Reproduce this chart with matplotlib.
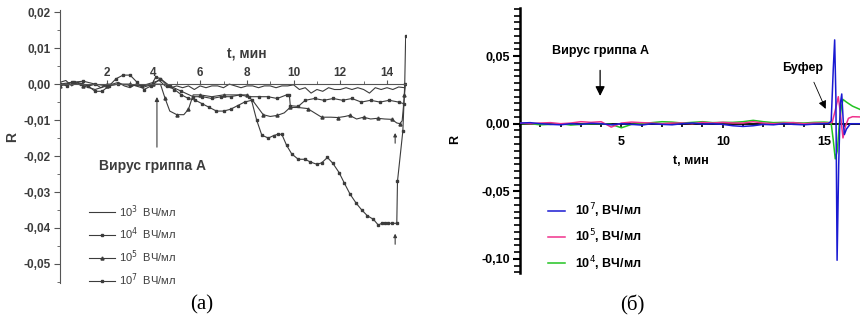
import numpy as np
import matplotlib.pyplot as plt
from matplotlib.ticker import MultipleLocator

plt.rcParams['font.family'] = ['Liberation Sans', 'DejaVu Sans']

# ---- panel (a) data ----
t_a3 = [0, 0.25, 0.5, 0.75, 1.0, 1.25, 1.5, 1.75, 2.0, 2.25, 2.5, 2.75, 3.0, 3.25, 3.5, 3.75,
        4.0, 4.25, 4.5, 4.75, 5.0, 5.25, 5.5, 5.75, 6.0, 6.25, 6.5, 6.75, 7.0, 7.25, 7.5, 7.75,
        8.0, 8.25, 8.5, 8.75, 9.0, 9.25, 9.5, 9.75, 10.0, 10.25, 10.5, 10.75, 11.0, 11.25, 11.5,
        11.75, 12.0, 12.25, 12.5, 12.75, 13.0, 13.25, 13.5, 13.75, 14.0, 14.25, 14.5, 14.75]
r_a3 = [0.0005, 0.001, -0.0005, 0.0005, 0.0, -0.0005, 0.0, -0.001, 0.0, 0.0, 0.0005, -0.0005,
        -0.001, 0.0, -0.0005, 0.0, 0.0005, 0.001, -0.0005, -0.001, -0.0005, -0.001, -0.0005,
        -0.0015, -0.0005, -0.001, -0.0005, -0.0005, -0.001, 0.0, -0.0005, -0.001, -0.0005,
        -0.0005, -0.001, -0.0005, -0.0005, -0.001, -0.0005, -0.0005, -0.0002, -0.0015, -0.001,
        -0.0025, -0.0015, -0.002, -0.001, -0.0015, -0.0015, -0.001, -0.0015, -0.001, -0.0015,
        -0.0025, -0.001, -0.0015, -0.001, -0.0015, -0.0008, -0.001]

t_a4 = [0, 0.5, 1.0, 1.5, 2.0, 2.5, 3.0, 3.5, 4.0, 4.3, 4.7, 5.2, 5.7, 6.1, 6.5, 6.9, 7.3, 7.7,
        8.1, 8.5, 8.9, 9.3, 9.7, 9.82, 9.86, 10.2, 10.5, 10.9, 11.3, 11.7, 12.1, 12.5, 12.9,
        13.3, 13.7, 14.1, 14.5, 14.75]
r_a4 = [0.0, 0.0005, 0.0008, 0.0, -0.0005, 0.0, -0.0003, -0.0005, 0.0, 0.0015, -0.0005, -0.002,
        -0.0035, -0.0035, -0.004, -0.0035, -0.0035, -0.003, -0.0035, -0.0035, -0.0035, -0.004,
        -0.003, -0.003, -0.006, -0.0062, -0.0045, -0.004, -0.0045, -0.004, -0.0045, -0.004,
        -0.005, -0.0045, -0.005, -0.0045, -0.005, -0.0055]

t_a5 = [0, 0.5, 1.0, 1.5, 2.0, 2.5, 3.0, 3.5, 4.0, 4.3, 4.5, 4.7, 5.0, 5.3, 5.5, 5.7, 6.0, 6.5,
        7.0, 7.5, 8.0, 8.3, 8.7, 9.0, 9.3, 9.6, 9.85, 10.2, 10.6, 10.9, 11.2, 11.6, 11.9, 12.2,
        12.4, 12.7, 13.0, 13.3, 13.6, 13.9, 14.2, 14.42, 14.55, 14.65, 14.75, 14.79]
r_a5 = [-0.0005, 0.0005, -0.0005, -0.0015, -0.0005, 0.0, 0.0, -0.001, 0.0, 0.0, -0.004, -0.0075,
        -0.0085, -0.0085, -0.007, -0.003, -0.003, -0.0035, -0.003, -0.003, -0.003, -0.005,
        -0.0085, -0.009, -0.0087, -0.008, -0.0065, -0.0065, -0.0068, -0.008, -0.0092, -0.0092,
        -0.0093, -0.009, -0.0087, -0.0097, -0.0092, -0.0097, -0.0095, -0.0097, -0.0098, -0.0108,
        -0.011, -0.0102, -0.003, 0.0]

t_a7 = [0, 0.3, 0.6, 0.9, 1.2, 1.5, 1.8, 2.1, 2.4, 2.7, 3.0, 3.3, 3.6, 3.9, 4.1, 4.3, 4.6, 4.9,
        5.2, 5.5, 5.8, 6.1, 6.4, 6.7, 7.0, 7.3, 7.6, 7.9, 8.2, 8.42, 8.64, 8.92, 9.15, 9.35, 9.5,
        9.7, 9.92, 10.2, 10.5, 10.7, 11.0, 11.2, 11.45, 11.68, 11.95, 12.18, 12.42, 12.68, 12.92,
        13.16, 13.42, 13.63, 13.8, 13.92, 14.05, 14.2, 14.42, 14.45, 14.68, 14.76, 14.8]
r_a7 = [0.0, -0.0005, 0.0005, 0.0, -0.0005, -0.002, -0.002, -0.0005, 0.0015, 0.0025, 0.0025,
        0.0005, -0.0015, -0.0005, 0.002, 0.0015, -0.0005, -0.0015, -0.003, -0.004, -0.0045,
        -0.0055, -0.0065, -0.0075, -0.0075, -0.007, -0.006, -0.005, -0.0045, -0.01, -0.0142,
        -0.015, -0.0143, -0.0139, -0.014, -0.017, -0.0194, -0.0209, -0.0209, -0.0216, -0.0223,
        -0.0219, -0.0204, -0.022, -0.0246, -0.0276, -0.0306, -0.0331, -0.035, -0.0366, -0.0376,
        -0.0392, -0.0386, -0.0385, -0.0387, -0.0387, -0.0387, -0.027, -0.013, 0.0, 0.0135]

labels_a = ['10$^3$  ВЧ/мл', '10$^4$  ВЧ/мл', '10$^5$  ВЧ/мл', '10$^7$  ВЧ/мл']
xticks_a = [2, 4, 6, 8, 10, 12, 14]
yticks_a = [-0.05, -0.04, -0.03, -0.02, -0.01, 0.0, 0.01, 0.02]
ylabels_a = ['-0,05', '-0,04', '-0,03', '-0,02', '-0,01', '0,00', '0,01', '0,02']

# ---- panel (b) data ----
t_b = [0, 0.5, 1.0, 1.5, 2.0, 2.5, 3.0, 3.5, 4.0, 4.5, 5.0, 5.5, 6.0, 6.5, 7.0, 7.5, 8.0, 8.5,
       9.0, 9.5, 10.0, 10.5, 11.0, 11.5, 12.0, 12.5, 13.0, 13.5, 14.0, 14.5, 15.0]
blue_r = [0.0005, 0.0008, 0.0, -0.0005, -0.0008, 0.0, -0.0005, 0.0003, 0.0, -0.0008, 0.0,
          -0.0005, -0.001, 0.0, -0.0005, -0.0008, 0.0, 0.0005, -0.0003, 0.0, -0.0005, -0.0015,
          -0.002, -0.0015, -0.0005, -0.0008, 0.0, -0.0005, -0.0008, -0.0003, 0.0]
pink_r = [0.0005, 0.0, 0.0005, 0.0008, 0.0, 0.0005, 0.0015, 0.001, 0.0015, -0.0025, 0.0005,
          0.0012, 0.0008, 0.0005, 0.0, 0.0005, 0.0005, 0.0, 0.001, 0.0005, 0.001, 0.0005,
          0.0005, 0.0015, 0.0005, 0.0, 0.0005, 0.0008, 0.0, 0.0005, 0.0005]
green_r = [0.0, 0.0, -0.0008, -0.0005, 0.0, -0.001, -0.0005, 0.0, 0.0, -0.0005, -0.003,
           -0.0005, 0.0, 0.0008, 0.0015, 0.0012, 0.0005, 0.001, 0.0015, 0.0008, 0.001, 0.001,
           0.0015, 0.0025, 0.0015, 0.0008, 0.001, 0.0008, 0.0005, 0.001, 0.0012]
# buffer response after 15 min
blue_tail_t = [15.2, 15.35, 15.45, 15.52, 15.58, 15.64, 15.72, 15.8, 15.87, 15.95, 16.0, 16.1, 16.3, 16.8]
blue_tail_r = [0.0, 0.002, 0.04, 0.062, 0.02, -0.101, -0.03, 0.015, 0.022, 0.0, -0.008, -0.004, 0.0, 0.0]
pink_tail_t = [15.2, 15.4, 15.55, 15.7, 15.8, 15.93, 16.05, 16.2, 16.4, 16.8]
pink_tail_r = [0.0005, 0.001, 0.01, 0.02, 0.008, -0.0105, -0.002, 0.004, 0.0052, 0.005]
green_tail_t = [15.2, 15.35, 15.45, 15.55, 15.65, 15.75, 15.85, 15.93, 16.1, 16.4, 16.8]
green_tail_r = [0.001, 0.0, -0.012, -0.026, -0.02, 0.0, 0.012, 0.018, 0.016, 0.013, 0.0104]

labels_b = ['10$^7$, ВЧ/мл', '10$^5$, ВЧ/мл', '10$^4$, ВЧ/мл']
xticks_b = [5, 10, 15]
yticks_b = [-0.10, -0.05, 0.0, 0.05]
ylabels_b = ['-0,10', '-0,05', '0,00', '0,05']

gray = '#3c3c3c'

fig = plt.figure(figsize=(8.6, 3.22), dpi=100)

# ================= (a) =================
axa = fig.add_axes([0.0698, 0.1211, 0.4019, 0.8478])
axa.plot(t_a3, r_a3, color=gray, lw=0.8, label=labels_a[0])
axa.plot(t_a4, r_a4, color=gray, lw=0.8, marker='s', ms=1.8, label=labels_a[1])
axa.plot(t_a5, r_a5, color=gray, lw=0.8, marker='^', ms=2.2, markevery=2, label=labels_a[2])
axa.plot(t_a7, r_a7, color=gray, lw=0.8, marker='s', ms=2.0, label=labels_a[3])

axa.set_xlim(0, 14.8)
axa.set_ylim(-0.0553, 0.0206)
axa.spines['right'].set_visible(False)
axa.spines['bottom'].set_visible(False)
axa.spines['top'].set_position(('data', 0))
axa.spines['top'].set_color('#555555')
axa.spines['left'].set_color('#555555')
axa.xaxis.tick_top()
axa.set_xticks(xticks_a)
axa.set_xticklabels([str(v) for v in xticks_a])
axa.xaxis.set_minor_locator(MultipleLocator(1))
axa.set_yticks(yticks_a)
axa.set_yticklabels(ylabels_a)
axa.yaxis.set_minor_locator(MultipleLocator(0.005))
axa.tick_params(axis='x', which='major', direction='out', length=3, pad=0.5,
                labelsize=8.5, colors='#555555', labelcolor=gray)
axa.tick_params(axis='x', which='minor', direction='out', length=2, colors='#555555')
axa.tick_params(axis='y', which='major', direction='out', length=4, pad=3,
                labelsize=8.5, colors='#555555', labelcolor=gray)
axa.tick_params(axis='y', which='minor', direction='out', length=2, colors='#555555')
for lab in axa.get_xticklabels() + axa.get_yticklabels():
    lab.set_fontweight('bold')

axa.text(8.0, 0.0086, 't, мин', fontsize=10, fontweight='bold', color=gray, ha='center', va='center')
fig.text(12 / 860, 1 - 137 / 322, 'R', fontsize=10, fontweight='bold', color=gray,
         rotation=90, ha='center', va='center')

axa.annotate('', xy=(4.15, -0.0028), xytext=(4.15, -0.0183),
             arrowprops=dict(arrowstyle='-|>', color=gray, lw=0.8, mutation_scale=6))
axa.text(3.95, -0.0228, 'Вирус гриппа А', fontsize=10, fontweight='bold', color=gray,
         ha='center', va='center')
axa.annotate('', xy=(14.35, -0.0128), xytext=(14.35, -0.0172),
             arrowprops=dict(arrowstyle='-|>', color=gray, lw=0.8, mutation_scale=5))
axa.annotate('', xy=(14.35, -0.0408), xytext=(14.35, -0.0453),
             arrowprops=dict(arrowstyle='-|>', color=gray, lw=0.8, mutation_scale=5))

axa.legend(loc='upper left', bbox_to_anchor=(0.067, 0.313), frameon=False, fontsize=8,
           borderpad=0, labelspacing=0.55, handlelength=2.4, handletextpad=0.3,
           labelcolor=gray)

# ================= (б) =================
axb = fig.add_axes([0.6047, 0.1522, 0.3953, 0.823])
axb.plot(t_b + green_tail_t, green_r + green_tail_r, color='#22c322', lw=1.1, zorder=2)
axb.plot(t_b + pink_tail_t, pink_r + pink_tail_r, color='#f0328c', lw=1.1, zorder=3)
axb.plot(t_b + blue_tail_t, blue_r + blue_tail_r, color='#1a1ad2', lw=1.1, zorder=4)
hg, hp, hb = axb.lines

axb.set_xlim(0, 16.77)
axb.set_ylim(-0.1104, 0.0856)
axb.spines['right'].set_visible(False)
axb.spines['top'].set_visible(False)
axb.spines['bottom'].set_position(('data', 0))
axb.spines['bottom'].set_linewidth(1.3)
axb.spines['bottom'].set_zorder(1)
axb.spines['left'].set_linewidth(1.8)
axb.set_xticks(xticks_b)
axb.set_xticklabels([str(v) for v in xticks_b])
axb.xaxis.set_minor_locator(MultipleLocator(1))
axb.set_yticks(yticks_b)
axb.set_yticklabels(ylabels_b)
axb.yaxis.set_minor_locator(MultipleLocator(0.005))
axb.tick_params(axis='x', which='major', direction='out', length=3, width=1.2, pad=6, labelsize=9)
axb.tick_params(axis='x', which='minor', direction='out', length=2.5, width=1.2)
axb.tick_params(axis='y', which='major', direction='out', length=5, width=1.5, pad=2, labelsize=9)
axb.tick_params(axis='y', which='minor', direction='out', length=4, width=1.2)
for lab in axb.get_xticklabels() + axb.get_yticklabels():
    lab.set_fontweight('bold')

axb.text(8.44, -0.0274, 't, мин', fontsize=9, fontweight='bold', ha='center', va='center')
axb.text(-3.2, -0.012, 'R', fontsize=9, fontweight='bold', rotation=90, ha='center', va='center')
axb.text(3.95, 0.054, 'Вирус гриппа А', fontsize=9, fontweight='bold', ha='center', va='center')
axb.annotate('', xy=(3.95, 0.0185), xytext=(3.95, 0.0415),
             arrowprops=dict(arrowstyle='-|>', color='black', lw=0.9, mutation_scale=14))
axb.text(13.96, 0.0415, 'Буфер', fontsize=9, fontweight='bold', ha='center', va='center')
axb.annotate('', xy=(15.13, 0.0091), xytext=(14.44, 0.0326),
             arrowprops=dict(arrowstyle='-|>', color='black', lw=0.6, mutation_scale=12))

axb.legend([hb, hp, hg], labels_b, loc='upper left', bbox_to_anchor=(0.065, 0.2925),
           frameon=False, borderpad=0, labelspacing=0.6, handlelength=1.3, handletextpad=0.8,
           prop={'size': 9, 'weight': 'bold'})

fig.text(202 / 860, 1 - 305 / 322, '(a)', family='Liberation Serif', fontsize=15,
         ha='center', va='center')
fig.text(632 / 860, 1 - 305 / 322, '(б)', family='Liberation Serif', fontsize=15,
         ha='center', va='center')

fig.savefig('out.png', dpi=100)
